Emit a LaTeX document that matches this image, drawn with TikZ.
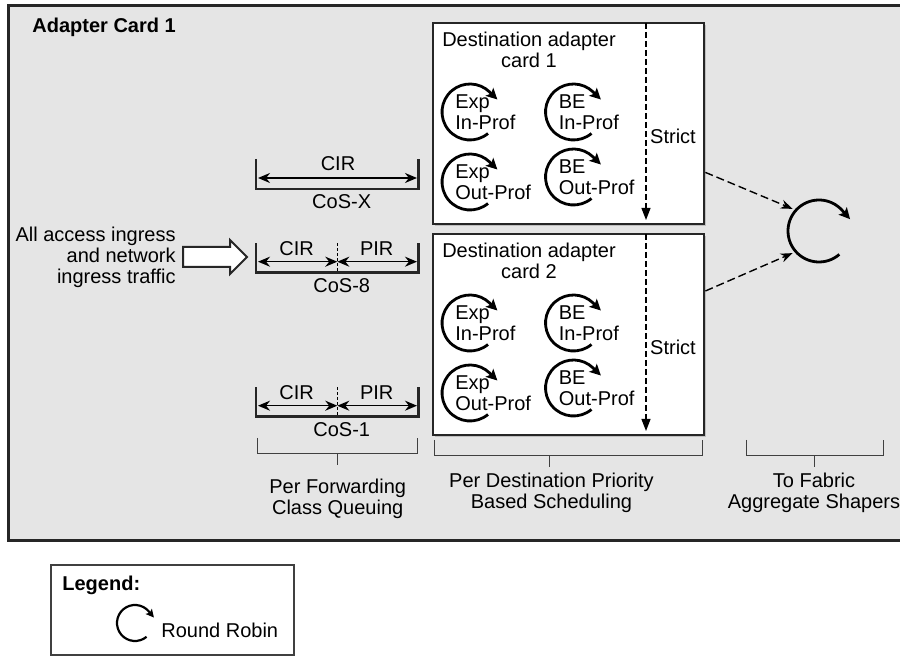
\documentclass[tikz,border=0pt]{standalone}
\usepackage{fontspec}
\setmainfont{Liberation Sans}
\usetikzlibrary{arrows.meta,calc}

\begin{document}
\begin{tikzpicture}[x=0.5pt, y=-0.5pt,
    font=\fontsize{10}{10.5}\selectfont,
    card/.style={draw=black!85, line width=1.2pt, fill=white, anchor=north west,
      minimum width=135.5pt, minimum height=100.5pt, inner sep=0pt},
    rrarc/.style={line width=1.4pt, -{Stealth[length=5.5pt,width=5.5pt,inset=1.2pt]}},
    dim/.style={line width=0.75pt, {Stealth[length=6pt,width=5pt]}-{Stealth[length=6pt,width=5pt]}},
    bar/.style={line width=1.4pt, black!85},
    brace/.style={line width=0.5pt, black!75},
    lbl/.style={inner sep=0pt, align=center},
    qlbl/.style={inner sep=0pt, anchor=west, align=left},
    flow/.style={dash pattern=on 4pt off 2pt, line width=0.7pt, -{Stealth[length=6pt,width=4.5pt]}}]

    \useasboundingbox (0,0) rectangle (900,656);
    \clip (0,0) rectangle (900,656);

    % Rahmen der Adapterkarte
    \draw[line width=1.5pt, black!85, fill=black!10] (8,6) rectangle (910,541);
    \node[anchor=base west, inner sep=0pt, font=\fontsize{10}{10.5}\selectfont\bfseries] (title) at (32,33) {Adapter Card 1};

    % Zielkarten
    \foreach \i/\dy in {1/0, 2/211} {
      \begin{scope}[shift={(0,\dy)}]
        \fill[black!25] (435,25) rectangle (706,226);
        \node[card] (card\i) at (432,22) {};
        \node[lbl] (dest\i) at (529,49.5) {Destination adapter\\card \i};
        \draw[dash pattern=on 3pt off 1.5pt, line width=0.6pt, -{Triangle[length=6pt,width=4.5pt]}] (646,23) -- (646,220);
        \node[inner sep=0pt] (strict\i) at (673,136) {Strict};
        \foreach \cx/\cy/\nm/\txt in {470/112/ein/Exp\\In-Prof, 573.5/112/bein/BE\\In-Prof,
                                     470/182/eout/Exp\\Out-Prof, 573.5/177/beout/BE\\Out-Prof} {
          \draw[rrarc] (\cx,\cy) ++(50:28) arc[start angle=50, end angle=314, radius=28] -- ++(44:11);
          \node[qlbl] (\nm\i) at (\cx-15,\cy) {\txt};
        }
      \end{scope}
    }

    % Round Robin zur Fabric
    \node[circle, minimum size=34pt, inner sep=0pt] (rr) at (819,231) {};
    \draw[rrarc] (819,231) ++(49:31) arc[start angle=49, end angle=318, radius=31] -- ++(48:12);
    \draw[flow] ($(card1.south east)+(0,-53)$) -- (rr.140);
    \draw[flow] ($(card2.north east)+(0,58)$) -- (rr.220);

    % Warteschlangen
    \draw[bar] (256,159) |- (418.7,189) -- (418.7,159);
    \draw[dim] (258,178) -- (417,178);
    \node[lbl] (cirx) at (338,164) {CIR};
    \node[lbl] (cosx) at (341.7,201.7) {CoS-X};

    \foreach \n/\dy in {8/0, 1/144} {
      \begin{scope}[shift={(0,\dy)}]
        \draw[bar] (256,243.3) |- (418.7,272.7) -- (418.7,243.3);
        \draw[line width=0.4pt, dash pattern=on 1.5pt off 1pt] (337.3,243.3) -- (337.3,272);
        \draw[dim] (258,261.7) -- (337.3,261.7);
        \draw[dim] (337.3,261.7) -- (417,261.7);
        \node[lbl] (cir\n) at (296.7,248.3) {CIR};
        \node[lbl] (pir\n) at (376.7,248.3) {PIR};
        \node[lbl] (cos\n) at (341.7,285.7) {CoS-\n};
      \end{scope}
    }

    % Eingangsverkehr
    \node[align=right, inner sep=0pt, anchor=east] (src) at (176,257.5) {All access ingress\\and network\\ingress traffic};
    \draw[line width=1pt, black!85, fill=white] (183,247) -- (230,247) -- (230,240) -- (247,257)
      -- (230,274) -- (230,267) -- (183,267) -- cycle;

    % Klammern unten
    \draw[brace] (257.7,438) |- (417.7,454) -- (417.7,438);
    \draw[brace] (337.7,454) -- (337.7,465);
    \node[lbl] (fcq) at (337.7,498.5) {Per Forwarding\\Class Queuing};

    \draw[brace] (434.3,440) |- (702.7,455.7) -- (702.7,440);
    \draw[brace] (549.3,455.7) -- (549.3,466.7);
    \node[lbl] (pdps) at (551.5,492.6) {Per Destination Priority\\Based Scheduling};

    \draw[brace] (746.7,440) |- (883.3,455.7) -- (883.3,440);
    \draw[brace] (814,455.7) -- (814,466.7);
    \node[lbl] (fabric) at (814,492.6) {To Fabric\\Aggregate Shapers};

    % Legende
    \draw[line width=0.6pt, black!75] (51,565) rectangle (294,655);
    \node[anchor=base west, inner sep=0pt, font=\fontsize{10}{10.5}\selectfont\bfseries] (legtitle) at (62,591) {Legend:};
    \draw[line width=1.1pt, -{Stealth[length=4pt,width=4pt,inset=0.8pt]}] (135,623) ++(50:18) arc[start angle=50, end angle=320, radius=18] -- ++(50:8);
    \node[anchor=west, inner sep=0pt] (rrlabel) at (161,630) {Round Robin};

\end{tikzpicture}
\end{document}
